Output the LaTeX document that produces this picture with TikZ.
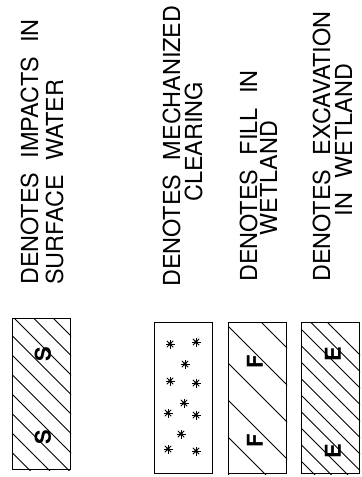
\documentclass[tikz,border=0pt]{standalone}
\usepackage{fontspec}
\newfontfamily\legendfont{TeX Gyre Heros}
\newcommand\legfont{\legendfont\fontsize{23.5}{23.5}\selectfont\spaceskip=0.62em\relax}
\newcommand\letfont{\legendfont\bfseries\fontsize{22}{22}\selectfont}
\begin{document}
\begin{tikzpicture}[x=1bp, y=-1bp,
  legtext/.style={rotate=90, inner sep=0pt, font=\legfont},
  keybox/.style={draw, line width=1.2bp, inner sep=0pt, anchor=north west,
    minimum width=58bp, minimum height=151bp},
  hatch/.style={line width=0.8bp},
  boxletter/.style={rotate=90, inner sep=0pt, font=\letfont}]
  \useasboundingbox (0,0) rectangle (361,477);

  % legend texts
  \node[legtext, anchor=base west] (surf1) at (38,285) {DENOTES IMPACTS IN};
  \node[legtext, anchor=base west] (surf2) at (63,285) {SURFACE WATER};
  \node[legtext, anchor=base west] (clear1) at (180,287) {DENOTES MECHANIZED};
  \node[legtext, anchor=base] (clear2) at (202,142) {CLEARING};
  \node[legtext, anchor=base west] (fill1) at (257,282) {DENOTES FILL IN};
  \node[legtext, anchor=base] (fill2) at (277,178) {WETLAND};
  \node[legtext, anchor=base west] (exc1) at (330,282) {DENOTES EXCAVATION};
  \node[legtext, anchor=base] (exc2) at (352,140) {IN WETLAND};

  % key boxes
  \node[keybox] (boxS) at (12,318) {};
  \node[keybox] (boxC) at (154,322) {};
  \node[keybox] (boxF) at (228,322) {};
  \node[keybox] (boxE) at (301,322) {};

  % hatching
  \foreach \b/\x/\y/\d in {boxS/12/277/19.5, boxF/228/289/37, boxE/301/296/16.5} {
    \begin{scope}
      \clip (\b.south west) rectangle (\b.north east);
      \foreach \k in {0,...,11}
        \draw[hatch] (\x-2,{\y+\d*\k-2}) -- ++(200,200);
    \end{scope}
  }

  % letters in boxes
  \node[boxletter] (s1) at (43,354) {S};
  \node[boxletter] (s2) at (43,437) {S};
  \node[boxletter] (f1) at (255,362) {F};
  \node[boxletter] (f2) at (255,441) {F};
  \node[boxletter] (e1) at (333,354) {E};
  \node[boxletter] (e2) at (333,451) {E};

  % asterisks for clearing
  \foreach \sx/\sy in {170/344, 196/342, 185/364, 170/381, 196/383, 184/403,
                       168/413, 196/415, 181/434, 168/449, 196/451} {
    \fill (\sx,\sy) circle (1.8);
    \foreach \a in {0,45,90,135}
      \draw[line width=0.9bp] (\sx,\sy) ++(\a:4.5) -- ++(\a+180:9);
  }
\end{tikzpicture}
\end{document}
